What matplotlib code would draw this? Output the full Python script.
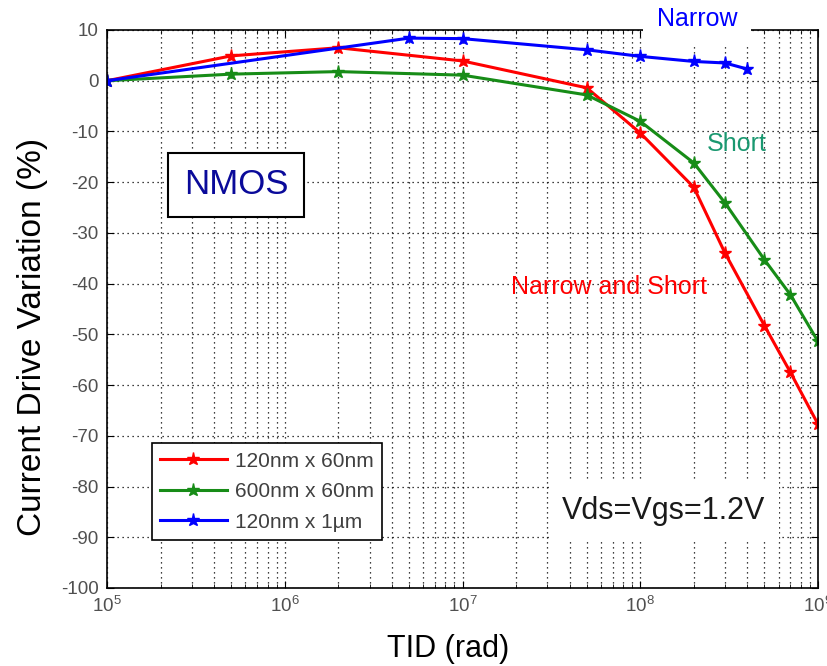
import numpy as np
import matplotlib
matplotlib.use("Agg")
import matplotlib.pyplot as plt
from matplotlib.ticker import LogLocator, NullFormatter, MultipleLocator

plt.rcParams["font.family"] = ["Liberation Sans", "DejaVu Sans"]
plt.rcParams["mathtext.fontset"] = "custom"
plt.rcParams["mathtext.rm"] = "Liberation Sans"
plt.rcParams["mathtext.it"] = "Liberation Sans:italic"
plt.rcParams["axes.unicode_minus"] = False

# data (TID in rad, variation in %)
tid_red = [1e5, 5e5, 2e6, 1e7, 5e7, 1e8, 2e8, 3e8, 5e8, 7e8, 1e9]
var_red = [0, 4.9, 6.5, 3.9, -1.4, -10.3, -21, -34, -48.3, -57.5, -67.7]

tid_green = [1e5, 5e5, 2e6, 1e7, 5e7, 1e8, 2e8, 3e8, 5e8, 7e8, 1e9]
var_green = [0, 1.3, 1.8, 1.1, -2.8, -8, -16.2, -24.1, -35.3, -42.2, -51.4]

tid_blue = [1e5, 5e6, 1e7, 5e7, 1e8, 2e8, 3e8, 4e8]
var_blue = [0, 8.4, 8.3, 6.1, 4.8, 3.8, 3.5, 2.3]

labels = ["120nm x 60nm", "600nm x 60nm", "120nm x 1\u00b5m"]
colors = ["#ff0000", "#178c17", "#0000ff"]

W, H = 827, 666
fig = plt.figure(figsize=(W / 100, H / 100), dpi=100)
ax = fig.add_axes([107 / W, 1 - 588 / H, (818 - 107) / W, (588 - 30) / H])

for x, y, lab, c in zip([tid_red, tid_green, tid_blue],
                        [var_red, var_green, var_blue], labels, colors):
    ax.plot(x, y, "-*", color=c, lw=2.2, ms=9.5, label=lab)

ax.set_xscale("log")
ax.set_xlim(1e5, 1e9)
ax.set_ylim(-100, 10)
ax.yaxis.set_major_locator(MultipleLocator(10))
ax.xaxis.set_minor_locator(LogLocator(base=10, subs=np.arange(2, 10)))
ax.xaxis.set_minor_formatter(NullFormatter())

ax.grid(True, which="major", ls=(0, (1, 3)), color="black", lw=0.9)
ax.grid(True, which="minor", axis="x", ls=(0, (1, 3)), color="black", lw=0.9)
ax.tick_params(which="both", direction="in", top=True, right=True,
               labelsize=13.5, labelcolor="#505050")
ax.tick_params(which="major", length=5)
ax.tick_params(which="minor", length=3)
ax.tick_params(axis="y", pad=6)
ax.tick_params(axis="x", pad=6)
for s in ax.spines.values():
    s.set_linewidth(1.2)

ax.set_ylabel("Current Drive Variation (%)", fontsize=24)
ax.set_xlabel("TID (rad)", fontsize=22)
ax.yaxis.set_label_coords(-0.083, 0.45)
ax.xaxis.set_label_coords(0.48, -0.082)

leg = ax.legend(loc="lower left", bbox_to_anchor=(0.063, 0.086), borderaxespad=0,
                fontsize=15, fancybox=False, edgecolor="black",
                handlelength=3.2, labelspacing=0.55, framealpha=1,
                handletextpad=0.4)
leg.get_frame().set_linewidth(1.2)
for t in leg.get_texts():
    t.set_color("#404040")

# annotations
fig.text(697 / W, 1 - 19 / H, "Narrow", color="#0000ff", fontsize=18,
         ha="center", va="center",
         bbox=dict(facecolor="white", edgecolor="none", pad=10))
fig.text(737 / W, 1 - 144 / H, "Short", color="#1a9870", fontsize=18,
         ha="center", va="center")
fig.text(609 / W, 1 - 287 / H, "Narrow and Short", color="#ff0000", fontsize=18,
         ha="center", va="center")
fig.text(236 / W, 1 - 185 / H, "NMOS", color="#0a0a9a", fontsize=25,
         ha="center", va="center",
         bbox=dict(facecolor="white", edgecolor="black", lw=1.5,
                   boxstyle="square,pad=0.45"))
fig.text(664 / W, 1 - 511 / H, "Vds=Vgs=1.2V", color="#1a1a1a", fontsize=22,
         ha="center", va="center",
         bbox=dict(facecolor="white", edgecolor="none", pad=10))

fig.savefig("out.png", dpi=100)
